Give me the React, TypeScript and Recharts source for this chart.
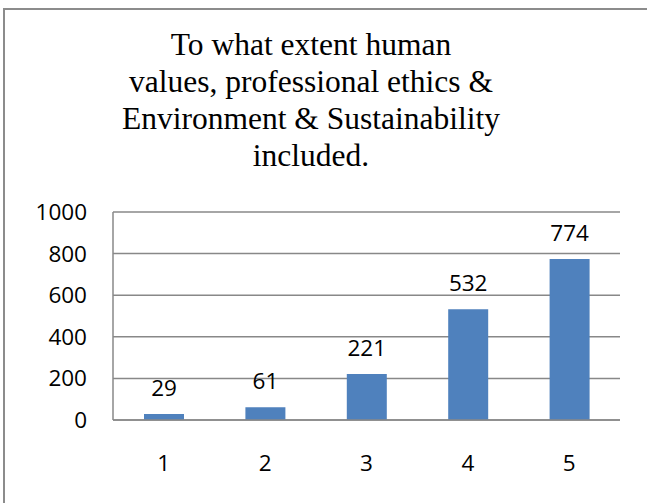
import { BarChart, Bar, XAxis, YAxis, CartesianGrid, LabelList } from "recharts";

// survey responses per rating
const categories = ["1", "2", "3", "4", "5"];
const counts = [29, 61, 221, 532, 774];
const yTicks = [0, 200, 400, 600, 800, 1000];
const titleLines = [
  "To what extent human",
  "values, professional ethics &",
  "Environment & Sustainability",
  "included.",
];

const data = categories.map((c, i) => ({ rating: c, count: counts[i] }));

const tickFont = { fontSize: 22.5, fill: "#000", fontFamily: "'Open Sans', sans-serif" };

export default function App() {
  return (
    <div
      style={{
        position: "absolute",
        left: 0,
        top: 0,
        width: 647,
        height: 503,
        background: "#fff",
        overflow: "hidden",
      }}
    >
      <div
        style={{
          position: "absolute",
          left: 3,
          top: 8,
          width: 700,
          height: 600,
          border: "2px solid #8c8c8c",
        }}
      />
      <svg
        width={647}
        height={200}
        style={{ position: "absolute", left: 0, top: 0 }}
      >
        {titleLines.map((t, i) => (
          <text
            key={t}
            x={311}
            y={55 + i * 37}
            textAnchor="middle"
            fontFamily="'Liberation Serif', 'Times New Roman', serif"
            fontSize={31.5}
            fill="#000"
          >
            {t}
          </text>
        ))}
      </svg>
      <div style={{ position: "absolute", left: 0, top: 0 }}>
        <BarChart
          width={647}
          height={503}
          data={data}
          margin={{ top: 212, right: 27, bottom: 43, left: 53 }}
        >
          <CartesianGrid vertical={false} stroke="#888" strokeWidth={1.5} />
          <XAxis
            dataKey="rating"
            height={40}
            tickLine={false}
            tickSize={0}
            tickMargin={35}
            axisLine={{ stroke: "#888", strokeWidth: 1.5 }}
            tick={tickFont}
          />
          <YAxis
            width={60}
            domain={[0, 1000]}
            ticks={yTicks}
            tickLine={false}
            tickSize={0}
            tickMargin={26}
            axisLine={{ stroke: "#888", strokeWidth: 1.5 }}
            tick={tickFont}
          />
          <Bar dataKey="count" fill="#4f81bd" barSize={40} isAnimationActive={false}>
            <LabelList
              dataKey="count"
              position="top"
              offset={18}
              style={tickFont}
              fill="#000"
            />
          </Bar>
        </BarChart>
      </div>
    </div>
  );
}
